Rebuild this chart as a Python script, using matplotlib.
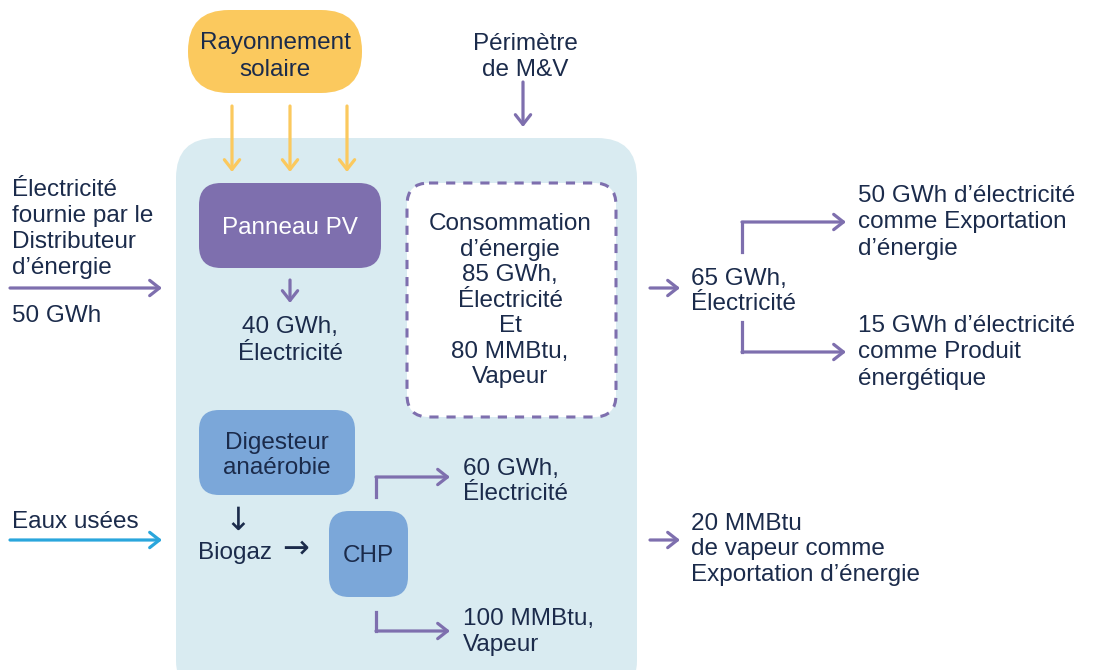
import matplotlib.pyplot as plt
from matplotlib.patches import FancyBboxPatch

plt.rcParams['font.family'] = ['Liberation Sans', 'DejaVu Sans']

# Texts of the diagram
source_sun = ['Rayonnement', 'solaire']
perimeter = ['Périmètre', 'de M&V']
grid_in = ['Électricité', 'fournie par le', 'Distributeur', 'd\u2019énergie']
grid_amount = '50 GWh'
pv_label = 'Panneau PV'
pv_out = ['40 GWh,', 'Électricité']
consumption = ['Consommation', 'd\u2019énergie', '85 GWh,', 'Électricité', 'Et', '80 MMBtu,', 'Vapeur']
export_elec = ['65 GWh,', 'Électricité']
export_a = ['50 GWh d\u2019électricité', 'comme Exportation', 'd\u2019énergie']
export_b = ['15 GWh d\u2019électricité', 'comme Produit', 'énergétique']
digester = ['Digesteur', 'anaérobie']
biogas = 'Biogaz'
chp = 'CHP'
chp_elec = ['60 GWh,', 'Électricité']
chp_steam = ['100 MMBtu,', 'Vapeur']
wastewater = 'Eaux usées'
export_steam = ['20 MMBtu', 'de vapeur comme', 'Exportation d\u2019énergie']

navy = '#1b2b4b'
purple = '#7e6fae'
yellow = '#fbc95e'
lightblue = '#d9ebf1'
midblue = '#7ba7d9'
cyan = '#2aa6dc'
fs = 17.5

fig = plt.figure(figsize=(11, 6.7), dpi=100)
ax = fig.add_axes([0, 0, 1, 1])
ax.set_xlim(0, 1100)
ax.set_ylim(670, 0)
ax.axis('off')


def box(x0, y0, x1, y1, fc, r, ec='none', ls='-', lw=0, z=1):
    p = FancyBboxPatch((x0 + r, y0 + r), x1 - x0 - 2 * r, y1 - y0 - 2 * r,
                       boxstyle='round,pad=%g' % r, fc=fc, ec=ec, ls=ls, lw=lw,
                       zorder=z, mutation_aspect=1)
    ax.add_patch(p)


def lines(x, y0, rows, step=25.8, ha='left', color=navy, size=fs):
    for i, t in enumerate(rows):
        ax.text(x, y0 + i * step, t, ha=ha, va='center_baseline', fontsize=size,
                color=color, zorder=4)


def arrow(pts, color, lw=2.3):
    # polyline with an open arrow head at the end
    xs = [p[0] for p in pts[:-1]]
    ys = [p[1] for p in pts[:-1]]
    if len(pts) > 2:
        ax.plot(xs, ys, color=color, lw=lw, solid_capstyle='projecting', zorder=3)
    ax.annotate('', xy=pts[-1], xytext=pts[-2],
                arrowprops=dict(arrowstyle='->,head_length=0.7,head_width=0.55',
                                color=color, lw=lw, shrinkA=0, shrinkB=0), zorder=3)


# big M&V boundary
box(176, 138, 637, 700, lightblue, 40)

# sun pill
box(188, 10, 362, 93, yellow, 41)
lines(275, 40, source_sun, step=27, ha='center')
for x in [232, 290, 347]:
    arrow([(x, 106), (x, 172)], yellow)

lines(525, 42, perimeter, step=26, ha='center')
arrow([(523, 82), (523, 127)], purple)

# left inputs
lines(12, 187, grid_in, step=26.3)
arrow([(10, 288), (162, 288)], purple)
lines(12, 313, [grid_amount])

# PV panel
box(199, 183, 381, 268, purple, 22)
lines(290, 226, [pv_label], ha='center', color='white')
arrow([(290, 280), (290, 303)], purple)
lines(290, 325, pv_out, step=26, ha='center')

# consumption dashed box
box(407, 183, 616, 417, 'white', 22, ec=purple, ls=(0, (3, 2.6)), lw=2.2, z=2)
lines(510, 222, consumption, step=25.5, ha='center')

# 65 GWh export branch
arrow([(650, 288), (680, 288)], purple)
lines(691, 277, export_elec, step=25)
arrow([(742, 252), (742, 222), (846, 222)], purple)
arrow([(742, 322), (742, 352), (846, 352)], purple)
lines(858, 193, export_a, step=26.5)
lines(858, 324, export_b, step=26)

# digester and CHP
box(199, 410, 355, 495, midblue, 20)
lines(277, 440, digester, step=26, ha='center')
ax.text(238, 521, '\u2193', ha='center', va='center', fontsize=23, color=navy,
        family='DejaVu Sans')
lines(198, 551, [biogas])
ax.text(296, 549, '\u2192', ha='center', va='center', fontsize=23, color=navy,
        family='DejaVu Sans')
box(329, 511, 408, 597, midblue, 20)
lines(368, 553, [chp], ha='center')

arrow([(376, 497), (376, 477), (450, 477)], purple)
lines(463, 467, chp_elec, step=25)
arrow([(376, 612), (376, 631), (450, 631)], purple)
lines(463, 617, chp_steam, step=26)

# waste water
lines(12, 520, [wastewater])
arrow([(10, 540), (162, 540)], cyan)

# steam export
arrow([(650, 540), (680, 540)], purple)
lines(691, 521, export_steam, step=25.5)

fig.savefig('out.png', dpi=100, facecolor='white')
